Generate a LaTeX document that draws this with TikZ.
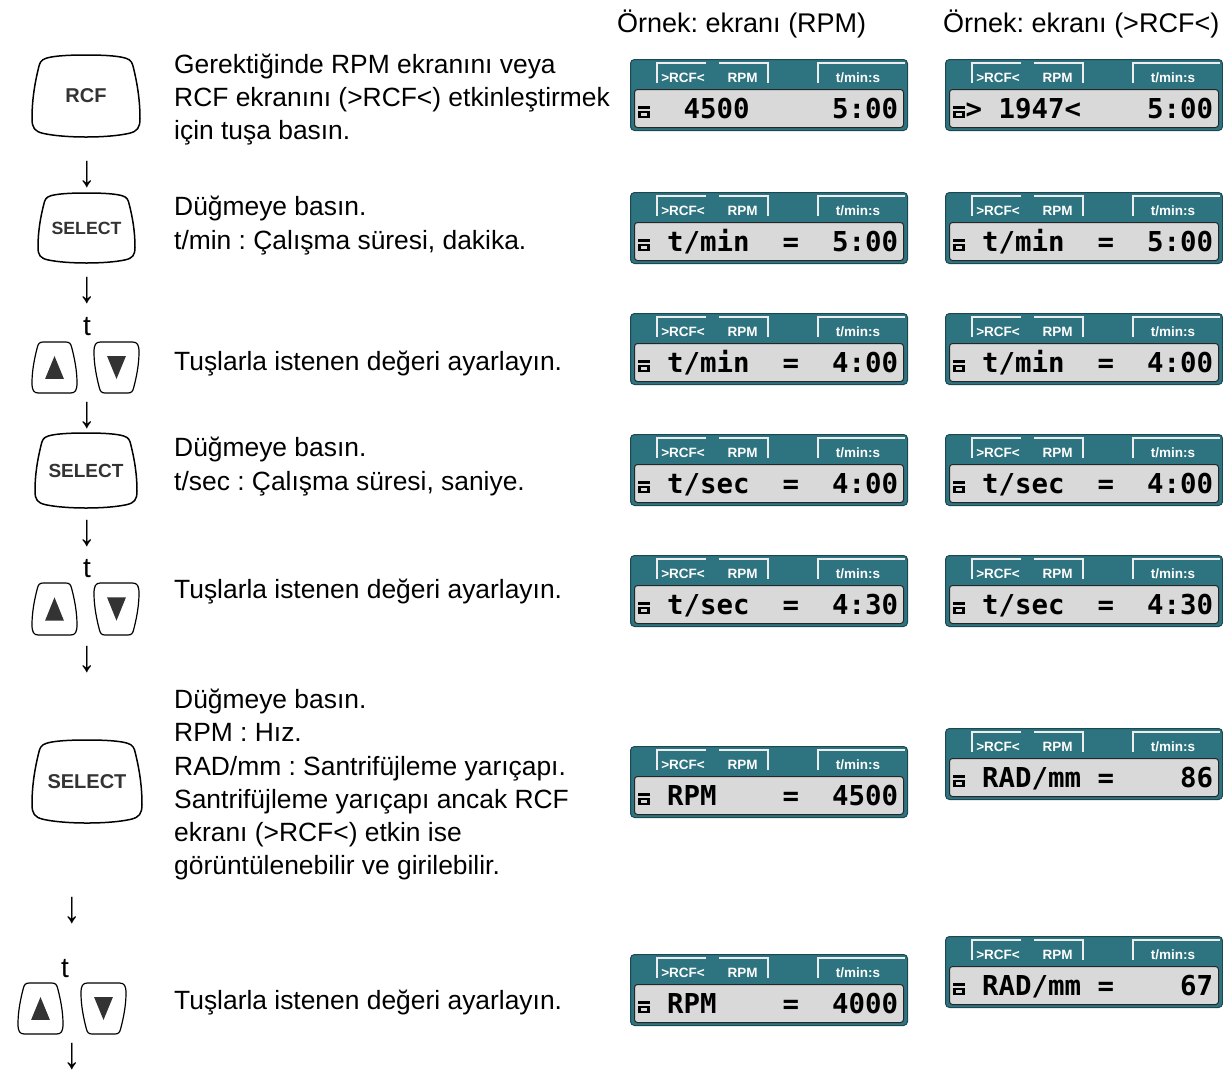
\documentclass[tikz,border=0pt]{standalone}
\usepackage{graphicx}
\usepackage{fontspec}
\setmainfont{Liberation Sans}
\newfontfamily\lcdfont{DejaVu Sans Mono}
\frenchspacing
\definecolor{lcdteal}{HTML}{2D7380}
\definecolor{lcdedge}{HTML}{1C4852}
\definecolor{screengray}{HTML}{D9D9D9}
\definecolor{tabwhite}{HTML}{EDEDED}
\definecolor{keyink}{HTML}{333333}
\tikzset{
  lcdbox/.style={draw=lcdedge, fill=lcdteal, rounded corners=4pt, minimum width=277pt, minimum height=71pt, anchor=north west, inner sep=0pt, line width=1pt},
  screenbox/.style={draw=black!85, fill=screengray, rounded corners=3pt, minimum width=269pt, minimum height=38pt, anchor=north west, inner sep=0pt, line width=1pt},
  tabline/.style={draw=tabwhite, line width=2pt},
  tablabel/.style={text=white, font=\bfseries\fontsize{13.5}{14}\selectfont, inner sep=0pt},
  lcdtxt/.style={font=\lcdfont\bfseries\fontsize{27.4}{28}\selectfont, anchor=base west, inner sep=0pt},
  keyline/.style={draw=black, line width=1.5pt, fill=white},
  smallkeyline/.style={draw=black, line width=1.2pt, fill=white},
  keylabel/.style={text=keyink, inner sep=0pt},
  maintxt/.style={font=\fontsize{26.4}{33}\selectfont, anchor=base west, inner sep=0pt},
  headtxt/.style={font=\fontsize{27}{33}\selectfont, anchor=base west, inner sep=0pt},
  downarrow/.style={font=\fontsize{28}{30}\selectfont, inner sep=0pt},
  tlabel/.style={font=\fontsize{28}{30}\selectfont, anchor=base, inner sep=0pt},
  bigkey/.pic={
    \draw[keyline] (0,-1) .. controls (0.4,-1) and (0.62,-0.97) .. (0.74,-0.92)
      .. controls (0.84,-0.88) and (0.86,-0.8) .. (0.88,-0.68)
      .. controls (0.95,-0.3) and (1,0.1) .. (1,0.55)
      .. controls (1,0.78) and (0.95,0.86) .. (0.8,0.91)
      .. controls (0.6,0.97) and (0.3,1) .. (0,1)
      .. controls (-0.3,1) and (-0.6,0.97) .. (-0.8,0.91)
      .. controls (-0.95,0.86) and (-1,0.78) .. (-1,0.55)
      .. controls (-1,0.1) and (-0.95,-0.3) .. (-0.88,-0.68)
      .. controls (-0.86,-0.8) and (-0.84,-0.88) .. (-0.74,-0.92)
      .. controls (-0.62,-0.97) and (-0.4,-1) .. (0,-1) -- cycle;
  },
  arrowkey/.pic={
    \draw[smallkeyline] (0,-1) -- (0.5,-1)
      .. controls (0.66,-1) and (0.72,-0.94) .. (0.76,-0.8)
      .. controls (0.88,-0.4) and (1,0.1) .. (1,0.6)
      .. controls (1,0.88) and (0.93,1) .. (0.72,1)
      -- (-0.72,1)
      .. controls (-0.93,1) and (-1,0.88) .. (-1,0.6)
      .. controls (-1,0.1) and (-0.88,-0.4) .. (-0.76,-0.8)
      .. controls (-0.72,-0.94) and (-0.66,-1) .. (-0.5,-1) -- cycle;
    \fill[keyink] (0,-0.45) -- (0.42,0.45) -- (-0.42,0.45) -- cycle;
  },
}
\newcommand{\darr}{\scalebox{1.25}[1.6]{↓}}
\newcommand{\lcdt}[2]{\node[lcdtxt] at ({4+16.5*#1},59) {#2};}
\newcommand{\lcdpanel}[4]{%
  \begin{scope}[shift={(#2,#3)}]
    \node[lcdbox] (#1) at (0,0) {};
    \node[screenbox] (#1s) at (4,30) {};
    \draw[tabline] (27,24) -- (27,4) -- (76,4);
    \draw[tabline] (89,4) -- (138,4) -- (138,24);
    \draw[tabline] (188,24) -- (188,4) -- (275,4);
    \node[tablabel] (#1a) at (53,18.5) {>RCF<};
    \node[tablabel] (#1b) at (112.5,18.5) {RPM};
    \node[tablabel] (#1c) at (228,18.5) {t/min:s};
    \fill (8,47) rectangle (19.5,49.5);
    \fill (8,51.5) rectangle (19.5,59);
    \fill[screengray] (10.5,53.5) rectangle (17,56.5);
    #4
  \end{scope}}
\begin{document}
\begin{tikzpicture}[x=1pt,y=-1pt]
\useasboundingbox (0,0) rectangle (1223,1080);

% headers
\node[headtxt] (h1) at (617,32) {Örnek: ekranı (RPM)};
\node[headtxt] (h2) at (943,32) {Örnek: ekranı (>RCF<)};

% keys
\pic[xscale=54,yscale=41] at (86,96) {bigkey};
\node[keylabel, font=\bfseries\fontsize{20}{20}\selectfont] (kRCF) at (86,96) {RCF};
\pic[xscale=48.5,yscale=35] at (86.5,228) {bigkey};
\node[keylabel, font=\bfseries\fontsize{17.7}{18}\selectfont] (kSel1) at (86.5,228) {SELECT};
\pic[xscale=51,yscale=37.5] at (86,470.5) {bigkey};
\node[keylabel, font=\bfseries\fontsize{19}{19}\selectfont] (kSel2) at (86,470.5) {SELECT};
\pic[xscale=55,yscale=41.5] at (87,781.5) {bigkey};
\node[keylabel, font=\bfseries\fontsize{20}{20}\selectfont] (kSel3) at (87,781.5) {SELECT};

\pic[xscale=22.5,yscale=25.5] at (54.5,367.5) {arrowkey};
\pic[xscale=22.5,yscale=-25.5] at (116.5,367.5) {arrowkey};
\pic[xscale=22.5,yscale=26] at (54.5,609) {arrowkey};
\pic[xscale=22.5,yscale=-26] at (116.5,609) {arrowkey};
\pic[xscale=22.5,yscale=25.5] at (40.5,1008.5) {arrowkey};
\pic[xscale=22.5,yscale=-25.5] at (103.5,1008.5) {arrowkey};

% t labels
\node[tlabel] (t1) at (87,335) {t};
\node[tlabel] (t2) at (87,577) {t};
\node[tlabel] (t3) at (65,977) {t};

% arrows
\node[downarrow] (a1) at (87,175) {\darr};
\node[downarrow] (a2) at (87,290.5) {\darr};
\node[downarrow] (a3) at (87,416) {\darr};
\node[downarrow] (a4) at (87,533.5) {\darr};
\node[downarrow] (a5) at (87,659.5) {\darr};
\node[downarrow] (a6) at (72,911) {\darr};
\node[downarrow] (a7) at (72,1057) {\darr};

% texts
\node[maintxt] (x1a) at (174,73) {Gerektiğinde RPM ekranını veya};
\node[maintxt] (x1b) at (174,106) {RCF ekranını (>RCF<) etkinleştirmek};
\node[maintxt] (x1c) at (174,139) {için tuşa basın.};
\node[maintxt] (x2a) at (174,215) {Düğmeye basın.};
\node[maintxt] (x2b) at (174,249) {t/min : Çalışma süresi, dakika.};
\node[maintxt] (x3a) at (174,370) {Tuşlarla istenen değeri ayarlayın.};
\node[maintxt] (x4a) at (174,456) {Düğmeye basın.};
\node[maintxt] (x4b) at (174,490) {t/sec : Çalışma süresi, saniye.};
\node[maintxt] (x5a) at (174,598) {Tuşlarla istenen değeri ayarlayın.};
\node[maintxt] (x6a) at (174,708) {Düğmeye basın.};
\node[maintxt] (x6b) at (174,741) {RPM : Hız.};
\node[maintxt] (x6c) at (174,775) {RAD/mm : Santrifüjleme yarıçapı.};
\node[maintxt] (x6d) at (174,808) {Santrifüjleme yarıçapı ancak RCF};
\node[maintxt] (x6e) at (174,841) {ekranı (>RCF<) etkin ise};
\node[maintxt] (x6f) at (174,874) {görüntülenebilir ve girilebilir.};
\node[maintxt] (x7a) at (174,1009) {Tuşlarla istenen değeri ayarlayın.};

% LCD panels
\lcdpanel{L1}{630}{59}{\lcdt{3}{4500}\lcdt{12}{5:00}}
\lcdpanel{R1}{945}{59}{\lcdt{1}{>}\lcdt{3}{1947}\lcdt{7}{<}\lcdt{12}{5:00}}
\lcdpanel{L2}{630}{192}{\lcdt{2}{t/min}\lcdt{9}{=}\lcdt{12}{5:00}}
\lcdpanel{R2}{945}{192}{\lcdt{2}{t/min}\lcdt{9}{=}\lcdt{12}{5:00}}
\lcdpanel{L3}{630}{313}{\lcdt{2}{t/min}\lcdt{9}{=}\lcdt{12}{4:00}}
\lcdpanel{R3}{945}{313}{\lcdt{2}{t/min}\lcdt{9}{=}\lcdt{12}{4:00}}
\lcdpanel{L4}{630}{434}{\lcdt{2}{t/sec}\lcdt{9}{=}\lcdt{12}{4:00}}
\lcdpanel{R4}{945}{434}{\lcdt{2}{t/sec}\lcdt{9}{=}\lcdt{12}{4:00}}
\lcdpanel{L5}{630}{555}{\lcdt{2}{t/sec}\lcdt{9}{=}\lcdt{12}{4:30}}
\lcdpanel{R5}{945}{555}{\lcdt{2}{t/sec}\lcdt{9}{=}\lcdt{12}{4:30}}
\lcdpanel{L6}{630}{746}{\lcdt{2}{RPM}\lcdt{9}{=}\lcdt{12}{4500}}
\lcdpanel{R6}{945}{728}{\lcdt{2}{RAD/mm}\lcdt{9}{=}\lcdt{14}{86}}
\lcdpanel{L7}{630}{954}{\lcdt{2}{RPM}\lcdt{9}{=}\lcdt{12}{4000}}
\lcdpanel{R7}{945}{936}{\lcdt{2}{RAD/mm}\lcdt{9}{=}\lcdt{14}{67}}
\end{tikzpicture}
\end{document}
